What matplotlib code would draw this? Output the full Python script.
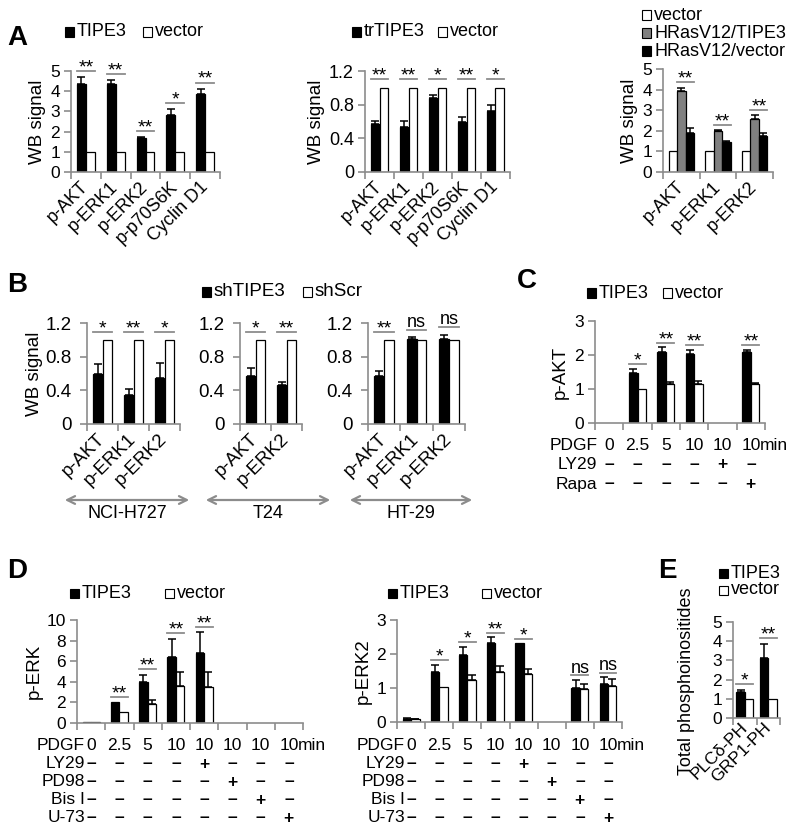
import numpy as np
import matplotlib as mpl
import matplotlib.pyplot as plt
from matplotlib.patches import Rectangle, FancyArrowPatch
from matplotlib.transforms import blended_transform_factory

mpl.rcParams['font.family'] = ['Liberation Sans', 'DejaVu Sans']

# ---------------- data ----------------
a1_labels = ['p-AKT', 'p-ERK1', 'p-ERK2', 'p-p70S6K', 'Cyclin D1']
a1_tipe3 = [4.35, 4.35, 1.7, 2.8, 3.85]
a1_tipe3_err = [0.37, 0.2, 0.03, 0.32, 0.28]
a1_vector = [1, 1, 1, 1, 1]
a1_vector_err = [0, 0, 0, 0, 0]
a1_sig = ['**', '**', '**', '*', '**']

a2_labels = ['p-AKT', 'p-ERK1', 'p-ERK2', 'p-p70S6K', 'Cyclin D1']
a2_trtipe3 = [0.57, 0.53, 0.88, 0.59, 0.72]
a2_trtipe3_err = [0.04, 0.08, 0.03, 0.06, 0.08]
a2_vector = [1, 1, 1, 1, 1]
a2_vector_err = [0, 0, 0, 0, 0]
a2_sig = ['**', '**', '*', '**', '*']

a3_labels = ['p-AKT', 'p-ERK1', 'p-ERK2']
a3_vector = [1, 1, 1]
a3_ras_tipe3 = [3.95, 2.0, 2.56]
a3_ras_tipe3_err = [0.15, 0.03, 0.2]
a3_ras_vector = [1.88, 1.47, 1.75]
a3_ras_vector_err = [0.25, 0.03, 0.14]
a3_sig = ['**', '**', '**']

b_cells = ['NCI-H727', 'T24', 'HT-29']
b1_labels = ['p-AKT', 'p-ERK1', 'p-ERK2']
b1_sh = [0.59, 0.35, 0.55]
b1_sh_err = [0.12, 0.06, 0.17]
b1_scr = [1, 1, 1]
b1_sig = ['*', '**', '*']
b2_labels = ['p-AKT', 'p-ERK2']
b2_sh = [0.57, 0.46]
b2_sh_err = [0.09, 0.04]
b2_scr = [1, 1]
b2_sig = ['*', '**']
b3_labels = ['p-AKT', 'p-ERK1', 'p-ERK2']
b3_sh = [0.57, 1.01, 1.01]
b3_sh_err = [0.06, 0.02, 0.05]
b3_scr = [1, 1, 1]
b3_sig = ['**', 'ns', 'ns']

c_pdgf = ['0', '2.5', '5', '10', '10', '10']
c_ly29 = ['–', '–', '–', '–', '+', '–']
c_rapa = ['–', '–', '–', '–', '–', '+']
c_tipe3 = [0, 1.48, 2.1, 2.02, 0, 2.1]
c_tipe3_err = [0, 0.12, 0.13, 0.14, 0, 0.06]
c_vector = [0, 1.0, 1.14, 1.16, 0, 1.14]
c_vector_err = [0, 0, 0.06, 0.09, 0, 0.04]
c_sig = ['', '*', '**', '**', '', '**']

d_pdgf = ['0', '2.5', '5', '10', '10', '10', '10', '10']
d_ly29 = ['–', '–', '–', '–', '+', '–', '–', '–']
d_pd98 = ['–', '–', '–', '–', '–', '+', '–', '–']
d_bis = ['–', '–', '–', '–', '–', '–', '+', '–']
d_u73 = ['–', '–', '–', '–', '–', '–', '–', '+']
d1_tipe3 = [0.05, 2.05, 4.0, 6.4, 6.8, 0, 0, 0]
d1_tipe3_err = [0, 0, 0.7, 1.8, 2.0, 0, 0, 0]
d1_vector = [0.05, 1.05, 1.85, 3.6, 3.5, 0, 0, 0]
d1_vector_err = [0, 0, 0.35, 1.4, 1.5, 0, 0, 0]
d1_sig = ['', '**', '**', '**', '**', '', '', '']
d2_tipe3 = [0.08, 1.48, 1.97, 2.33, 2.31, 0, 1.01, 1.11]
d2_tipe3_err = [0.03, 0.2, 0.24, 0.16, 0, 0, 0.23, 0.2]
d2_vector = [0.08, 1.04, 1.24, 1.48, 1.41, 0, 0.96, 1.07]
d2_vector_err = [0.02, 0, 0.14, 0.18, 0.14, 0, 0.16, 0.2]
d2_sig = ['', '*', '*', '**', '*', '', 'ns', 'ns']

e_labels = ['PLCδ-PH', 'GRP1-PH']
e_tipe3 = [1.35, 3.15]
e_tipe3_err = [0.12, 0.7]
e_vector = [1, 1]
e_vector_err = [0, 0]
e_sig = ['*', '**']

# ---------------- helpers ----------------
W, H = 800, 831
GRAY = '#8c8c8c'
fig = plt.figure(figsize=(W / 100, H / 100), dpi=100)


def make_ax(x0, x1, y0, y1, ymax, yticks, ytl, n, fs=12.5):
    ax = fig.add_axes([x0 / W, 1 - y1 / H, (x1 - x0) / W, (y1 - y0) / H])
    ax.patch.set_alpha(0)
    ax.set_xlim(-0.5, n - 0.5)
    ax.set_ylim(0, ymax)
    ax.spines['top'].set_visible(False)
    ax.spines['right'].set_visible(False)
    for s in ['left', 'bottom']:
        ax.spines[s].set_color(GRAY)
        ax.spines[s].set_linewidth(1.2)
    ax.set_yticks(yticks)
    ax.set_yticklabels(ytl, fontsize=fs)
    ax.set_xticks(np.arange(n + 1) - 0.5)
    ax.set_xticklabels([])
    ax.tick_params(axis='both', which='major', colors=GRAY, labelcolor='black',
                   length=5, width=1.2, pad=3)
    return ax


def cat_labels(ax, labels, fs=13, pad=9):
    ax.set_xticks(np.arange(len(labels)), minor=True)
    ax.set_xticklabels(labels, minor=True, rotation=45, ha='right', va='center',
                       rotation_mode='anchor', fontsize=fs)
    ax.tick_params(axis='x', which='minor', length=0, pad=pad)


def bars(ax, pos, vals, errs, w, color):
    for x, v, e in zip(pos, vals, errs):
        if v <= 0:
            continue
        ax.bar(x, v, w, color=color, edgecolor='black', linewidth=0.9, zorder=2)
        if e > 0:
            ax.errorbar(x, v, yerr=[[0], [e]], fmt='none', ecolor='black',
                        elinewidth=1.1, capsize=3.2, capthick=1.1, zorder=3)


def sig(ax, centers, tops, labels, half, gap, fs=14):
    for x, t, lab in zip(centers, tops, labels):
        if not lab:
            continue
        y = t + gap
        ax.plot([x - half, x + half], [y, y], color=GRAY, lw=1.3, clip_on=False)
        off = 2 if lab == 'ns' else -1
        ax.annotate(lab, xy=(x, y), xytext=(0, off), textcoords='offset points',
                    ha='center', va='baseline', fontsize=fs if lab != 'ns' else 13)


def pair(ax, a, a_err, b, b_err, labels, gap, w=0.3):
    x = np.arange(len(a))
    bars(ax, x - w / 2, a, a_err, w, 'black')
    bars(ax, x + w / 2, b, b_err, w, 'white')
    tops = [max(p + pe, q + qe) for p, pe, q, qe in zip(a, a_err, b, b_err)]
    sig(ax, x, tops, labels, w, gap)


def legend_item(x, y, label, fc, fs=13):
    fig.patches.append(Rectangle((x / W, 1 - (y + 4.5) / H), 9 / W, 9 / H,
                                 transform=fig.transFigure, facecolor=fc,
                                 edgecolor='black', linewidth=0.8))
    fig.text((x + 12) / W, 1 - y / H, label, ha='left', va='center', fontsize=fs)


def letter(x, y, s):
    fig.text(x / W, 1 - y / H, s, ha='left', va='baseline', fontsize=20,
             fontweight='bold')


def table(ax, rows, names, ys, name_dx, fs=12.5):
    tr = blended_transform_factory(ax.transData, fig.transFigure)
    for row, name, yp in zip(rows, names, ys):
        yf = 1 - yp / H
        ax.text(name_dx, yf, name, transform=tr, ha='right', va='center', fontsize=fs)
        for i, v in enumerate(row):
            bold = v in ('–', '+')
            ax.text(i, yf, v, transform=tr, ha='center', va='center', fontsize=fs,
                    fontweight='bold' if bold else 'normal')
    ax.text(len(rows[0]) - 1 + 0.33, 1 - ys[0] / H, 'min', transform=tr,
            ha='left', va='center', fontsize=fs)


# ---------------- panel A ----------------
letter(7, 45, 'A')
ax = make_ax(71, 220, 71, 172, 5, range(6), [str(i) for i in range(6)], 5)
pair(ax, a1_tipe3, a1_tipe3_err, a1_vector, a1_vector_err, a1_sig, 0.3)
cat_labels(ax, a1_labels)
ax.set_ylabel('WB signal', fontsize=13.5, labelpad=3)
legend_item(65, 32, 'TIPE3', 'black')
legend_item(143, 32, 'vector', 'white')

ax = make_ax(365, 510, 71, 172, 1.2, [0, 0.4, 0.8, 1.2], ['0', '0.4', '0.8', '1.2'], 5, fs=13)
pair(ax, a2_trtipe3, a2_trtipe3_err, a2_vector, a2_vector_err, a2_sig, 0.1)
cat_labels(ax, a2_labels)
ax.set_ylabel('WB signal', fontsize=13.5, labelpad=3)
legend_item(352, 32, 'trTIPE3', 'black')
legend_item(438, 32, 'vector', 'white')

ax = make_ax(663, 773, 69, 172, 5, range(6), [str(i) for i in range(6)], 3)
w3 = 0.23
x3 = np.arange(3)
bars(ax, x3 - w3, a3_vector, [0, 0, 0], w3, 'white')
bars(ax, x3, a3_ras_tipe3, a3_ras_tipe3_err, w3, '#808080')
bars(ax, x3 + w3, a3_ras_vector, a3_ras_vector_err, w3, 'black')
tops3 = [max(p + pe, q + qe) for p, pe, q, qe in
         zip(a3_ras_tipe3, a3_ras_tipe3_err, a3_ras_vector, a3_ras_vector_err)]
sig(ax, x3 + w3 / 2, tops3, a3_sig, w3, 0.27)
cat_labels(ax, a3_labels)
ax.set_ylabel('WB signal', fontsize=13.5, labelpad=3)
legend_item(642, 15, 'vector', 'white')
legend_item(642, 33, 'HRasV12/TIPE3', '#808080')
legend_item(642, 51, 'HRasV12/vector', 'black')

# ---------------- panel B ----------------
letter(7, 292, 'B')
legend_item(202, 292, 'shTIPE3', 'black', fs=13.5)
legend_item(303, 292, 'shScr', 'white', fs=13.5)
b_ticks = [0, 0.4, 0.8, 1.2]
b_tl = ['0', '0.4', '0.8', '1.2']
b_boxes = [(87, 180), (240, 302), (368, 465)]
b_sets = [(b1_labels, b1_sh, b1_sh_err, b1_scr, b1_sig),
          (b2_labels, b2_sh, b2_sh_err, b2_scr, b2_sig),
          (b3_labels, b3_sh, b3_sh_err, b3_scr, b3_sig)]
for k, ((x0, x1), (labs, sh, sh_err, scr, sg)) in enumerate(zip(b_boxes, b_sets)):
    ax = make_ax(x0, x1, 323, 424, 1.2, b_ticks, b_tl, len(labs), fs=13.5)
    pair(ax, sh, sh_err, scr, [0] * len(scr), sg, 0.09)
    cat_labels(ax, labs, fs=13.5)
    ax.tick_params(axis='y', pad=6)
    if k == 0:
        ax.set_ylabel('WB signal', fontsize=13.5, labelpad=2)

arrow_spans = [(62, 192), (203, 333), (347, 475)]
for (xa, xb), name in zip(arrow_spans, b_cells):
    fig.patches.append(FancyArrowPatch((xa / W, 1 - 500 / H), (xb / W, 1 - 500 / H),
                                       transform=fig.transFigure, arrowstyle='<->',
                                       mutation_scale=14, color=GRAY, lw=1.6))
    fig.text((xa + xb) / 2 / W, 1 - 514 / H, name, ha='center', va='center', fontsize=13)

# ---------------- panel C ----------------
letter(517, 288, 'C')
legend_item(587, 293, 'TIPE3', 'black')
legend_item(663, 293, 'vector', 'white')
ax = make_ax(595, 765, 321, 423, 3, range(4), [str(i) for i in range(4)], 6)
pair(ax, c_tipe3, c_tipe3_err, c_vector, c_vector_err, c_sig, 0.13)
ax.set_ylabel('p-AKT', fontsize=13.5, labelpad=4)
table(ax, [c_pdgf, c_ly29, c_rapa], ['PDGF', 'LY29', 'Rapa'], [445, 465, 484], -0.42)

# ---------------- panel D ----------------
letter(7, 578, 'D')
d_rows = [d_pdgf, d_ly29, d_pd98, d_bis, d_u73]
d_names = ['PDGF', 'LY29', 'PD98', 'Bis I', 'U-73']
d_ys = [745, 764, 782, 800, 818]

legend_item(70, 593, 'TIPE3', 'black')
legend_item(165, 593, 'vector', 'white')
ax = make_ax(77, 303, 620, 723, 10, range(0, 11, 2), [str(i) for i in range(0, 11, 2)], 8)
pair(ax, d1_tipe3, d1_tipe3_err, d1_vector, d1_vector_err, d1_sig, 0.5)
ax.set_ylabel('p-ERK', fontsize=13.5, labelpad=3)
table(ax, d_rows, d_names, d_ys, -0.22)

legend_item(388, 593, 'TIPE3', 'black')
legend_item(482, 593, 'vector', 'white')
ax = make_ax(397, 622, 620, 722, 3, range(4), [str(i) for i in range(4)], 8)
pair(ax, d2_tipe3, d2_tipe3_err, d2_vector, d2_vector_err, d2_sig, 0.13)
ax.set_ylabel('p-ERK2', fontsize=13.5, labelpad=3)
table(ax, d_rows, d_names, d_ys, -0.22)

# ---------------- panel E ----------------
letter(658, 578, 'E')
legend_item(719, 573, 'TIPE3', 'black')
legend_item(719, 590, 'vector', 'white')
ax = make_ax(733, 780, 622, 718, 5, range(6), [str(i) for i in range(6)], 2)
pair(ax, e_tipe3, e_tipe3_err, e_vector, e_vector_err, e_sig, 0.3, w=0.36)
cat_labels(ax, e_labels, fs=12.5, pad=5)
ax.set_ylabel('Total phosphoinositides', fontsize=13, labelpad=3)
ax.yaxis.set_label_coords(-0.8, 0.38)

fig.savefig('out.png', dpi=100)
